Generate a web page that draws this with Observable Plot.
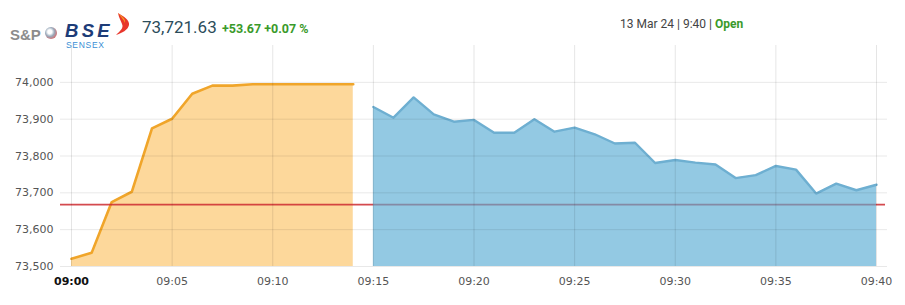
<!DOCTYPE html>
<html><head><meta charset="utf-8">
<script src="https://cdn.jsdelivr.net/npm/d3@7"></script>
<script src="https://cdn.jsdelivr.net/npm/@observablehq/plot@0.6"></script>
<style>
body{margin:0;background:#fff;width:905px;height:305px;overflow:hidden;position:relative;font-family:Roboto,sans-serif}
#chart{position:absolute;left:0;top:40px}
#hdr{position:absolute;left:0;top:0;width:905px;height:46px;z-index:2;pointer-events:none}
#hdr span{position:absolute;white-space:nowrap}
</style></head><body>
<div id="chart"></div>
<div id="hdr">
  <span style="left:10px;top:26px;line-height:15px;font:bold 15px 'Liberation Sans',Arial,sans-serif;color:#8c8c8c">S&amp;P</span>
  <span style="left:45px;top:27px;width:12px;height:12px;border-radius:50%;background:radial-gradient(circle at 40% 40%,#fff 20%,#9ab 45%,#d66 80%)"></span>
  <span style="left:65px;top:22px;font:italic 900 18.5px/1 'Liberation Sans',Arial,sans-serif;color:#1d3c78;letter-spacing:3.3px">BSE</span>
  <span style="left:66px;top:41px;font:8.5px/1 'Liberation Sans',Arial,sans-serif;color:#3a8fd5;letter-spacing:0.7px">SENSEX</span>
  <span style="left:114px;top:12px"><svg width="18" height="24" viewBox="0 0 18 24"><path d="M4 1 C9 4 16 8 15 13 C14 18 8 21 2 23 C6 19 10 16 8 12 C7 9 5 6 4 1 Z" fill="#e8362b"/><path d="M4 1 C8 4 12 7 11 11 C10 8 7 5 4 1 Z" fill="#f49a1f"/></svg></span>
  <span style="left:142px;top:17px;line-height:1;font:17px Roboto,sans-serif;color:#2b4c5a">73,721.63</span>
  <span style="left:222px;top:21px;line-height:1;font:bold 12.5px Roboto,sans-serif;color:#3a9a2a">+53.67 +0.07 %</span>
  <span style="left:620px;top:17px;line-height:1;font:12px Roboto,sans-serif;color:#444">13 Mar 24 | 9:40 | <b style="color:#3a9a2a">Open</b></span>
</div>
<script>
// Pre-open session (09:00 – 09:14)
const preOpenTimes = ["09:00","09:01","09:02","09:03","09:04","09:05","09:06","09:07","09:08","09:09","09:10","09:11","09:12","09:13","09:14"];
const preOpenValues = [73521,73537,73675,73703,73875,73901,73969,73991,73991,73995,73995,73995,73995,73995,73995];
// Regular session (09:15 – 09:40)
const sessionTimes = ["09:15","09:16","09:17","09:18","09:19","09:20","09:21","09:22","09:23","09:24","09:25","09:26","09:27","09:28","09:29","09:30","09:31","09:32","09:33","09:34","09:35","09:36","09:37","09:38","09:39","09:40"];
const sessionValues = [73933,73904,73959,73913,73893,73898,73863,73863,73900,73866,73877,73859,73834,73836,73781,73789,73782,73777,73740,73748,73773,73763,73698,73725,73707,73722];
const previousClose = 73667.96;
const yTicks = [73500,73600,73700,73800,73900,74000];
const yDomain = [73500,74100];
const xTickLabels = ["09:00","09:05","09:10","09:15","09:20","09:25","09:30","09:35","09:40"];
const xDomain = ["09:00","09:40"];

const parse = d3.timeParse("%H:%M");
const pre = preOpenTimes.map((t,i)=>({t:parse(t), v:preOpenValues[i]}));
const ses = sessionTimes.map((t,i)=>({t:parse(t), v:sessionValues[i]}));
const xTicks = xTickLabels.map(parse);
const base = yDomain[0];

const chart = Plot.plot({
  width: 905, height: 265,
  marginLeft: 71, marginRight: 29, marginTop: 5, marginBottom: 39,
  x: {type: "time", domain: xDomain.map(parse), label: null},
  y: {domain: yDomain, label: null},
  style: {fontFamily: "'DejaVu Sans', Verdana, sans-serif", fontSize: "11px", background: "white"},
  marks: [
    Plot.areaY(pre, {x: "t", y1: base, y2: "v", fill: "#fdd89b"}),
    Plot.lineY(pre, {x: "t", y: "v", stroke: "#f0a52a", strokeWidth: 2.6}),
    Plot.ruleY([previousClose], {stroke: "#cc2a30", strokeOpacity: 0.85, strokeWidth: 1.8, insetLeft: -11, insetRight: -9}),
    Plot.areaY(ses, {x: "t", y1: base, y2: "v", fill: "#59acd4", fillOpacity: 0.65}),
    Plot.lineY(ses, {x: "t", y: "v", stroke: "#6eafd1", strokeWidth: 2.4}),
    Plot.gridX(xTicks, {stroke: "#000", strokeOpacity: 0.1}),
    Plot.ruleY(yTicks, {stroke: "#000", strokeOpacity: 0.09, insetLeft: -11, insetRight: -11}),
    Plot.axisY(yTicks, {tickSize: 0, tickPadding: 18, tickFormat: d3.format(","), fill: "#555"}),
    Plot.axisX(xTicks.slice(1), {tickSize: 0, tickPadding: 11, tickFormat: d3.timeFormat("%H:%M"), fill: "#555"}),
    Plot.axisX(xTicks.slice(0,1), {tickSize: 0, tickPadding: 11, tickFormat: d3.timeFormat("%H:%M"), fill: "#111", fontWeight: "bold"})
  ]
});
document.getElementById("chart").append(chart);
</script>
</body></html>
